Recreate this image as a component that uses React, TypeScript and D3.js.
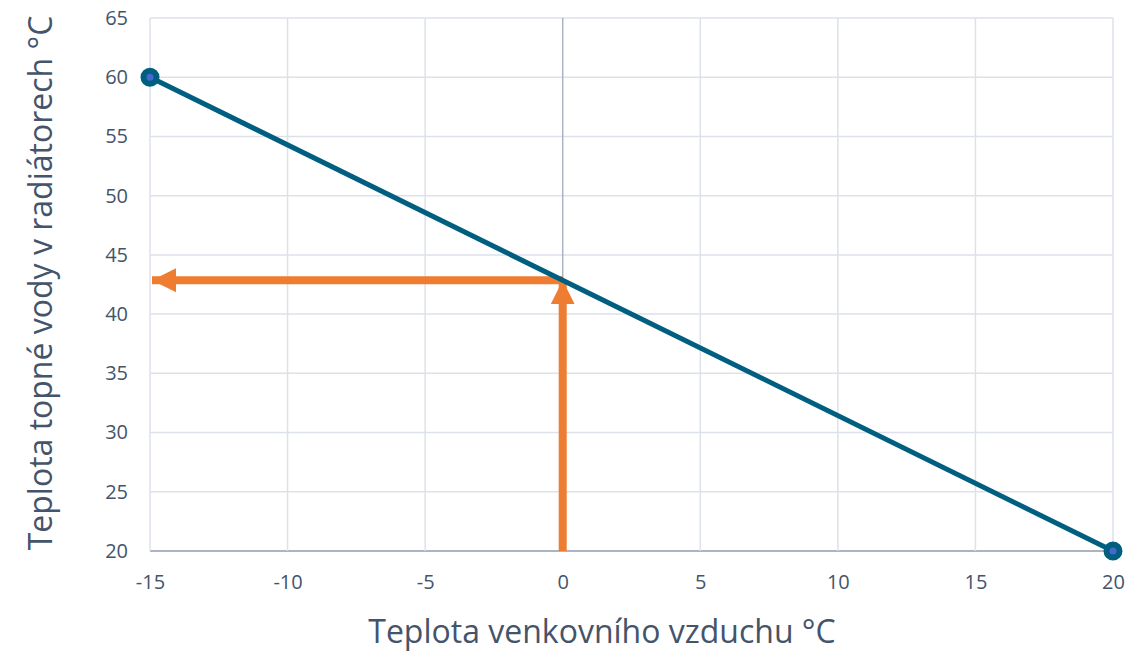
import React, { useEffect, useRef } from 'react';
import * as d3 from 'd3';

// heating curve: outdoor temp -> radiator water temp
const curveX = [-15, 20];
const curveY = [60, 20];
const readAtX = 0;
const readAtY = 42.86;
const xTicks = [-15, -10, -5, 0, 5, 10, 15, 20];
const yTicks = [20, 25, 30, 35, 40, 45, 50, 55, 60, 65];

const W = 1135;
const H = 653;
const margin = { left: 150, right: 22, top: 18, bottom: 102 };

export default function App() {
  const ref = useRef<SVGSVGElement>(null);

  useEffect(() => {
    const svg = d3.select(ref.current);
    svg.selectAll('*').remove();

    const x = d3.scaleLinear().domain([-15, 20]).range([margin.left, W - margin.right]);
    const y = d3.scaleLinear().domain([20, 65]).range([H - margin.bottom, margin.top]);
    const font = "'Segoe UI', 'Open Sans', sans-serif";
    const textColor = '#44546a';

    // grid
    const grid = svg.append('g');
    grid
      .selectAll('line.h')
      .data(yTicks)
      .enter()
      .append('line')
      .attr('x1', x(-15))
      .attr('x2', x(20))
      .attr('y1', d => y(d))
      .attr('y2', d => y(d))
      .attr('stroke', d => (d === 20 ? '#aab4c4' : '#dde2ea'))
      .attr('stroke-width', d => (d === 20 ? 2 : 1.5));
    grid
      .selectAll('line.v')
      .data(xTicks)
      .enter()
      .append('line')
      .attr('y1', y(20))
      .attr('y2', y(65))
      .attr('x1', d => x(d))
      .attr('x2', d => x(d))
      .attr('stroke', d => (d === 0 ? '#aab4c4' : '#dde2ea'))
      .attr('stroke-width', 1.5);

    // tick labels (plain hyphen minus like the original)
    const fmt = (d: d3.NumberValue) => String(d);
    const xAxis = d3.axisBottom(x).tickValues(xTicks).tickFormat(fmt).tickSize(0).tickPadding(24);
    const gx = svg.append('g').attr('transform', `translate(0, ${y(20)})`).call(xAxis);
    gx.select('.domain').remove();
    gx.selectAll('text').attr('font-size', 20).attr('font-family', font).attr('fill', textColor);

    const yAxis = d3.axisLeft(y).tickValues(yTicks).tickFormat(fmt).tickSize(0).tickPadding(22);
    const gy = svg.append('g').attr('transform', `translate(${x(-15)}, 0)`).call(yAxis);
    gy.select('.domain').remove();
    gy.selectAll('text').attr('font-size', 20).attr('font-family', font).attr('fill', textColor);

    // orange read-off arrows
    const orange = '#ee7d31';
    const defs = svg.append('defs');
    defs
      .append('marker')
      .attr('id', 'arrow')
      .attr('viewBox', '0 0 10 10')
      .attr('refX', 10)
      .attr('refY', 5)
      .attr('markerWidth', 3)
      .attr('markerHeight', 3.1)
      .attr('markerUnits', 'strokeWidth')
      .attr('orient', 'auto')
      .append('path')
      .attr('d', 'M0,0 L10,5 L0,10 Z')
      .attr('fill', orange);

    svg
      .append('line')
      .attr('x1', x(readAtX))
      .attr('x2', x(readAtX))
      .attr('y1', y(20))
      .attr('y2', y(readAtY))
      .attr('stroke', orange)
      .attr('stroke-width', 8)
      .attr('marker-end', 'url(#arrow)');
    svg
      .append('line')
      .attr('x1', x(readAtX))
      .attr('x2', x(-15) + 2)
      .attr('y1', y(readAtY))
      .attr('y2', y(readAtY))
      .attr('stroke', orange)
      .attr('stroke-width', 8)
      .attr('marker-end', 'url(#arrow)');

    // curve
    const pts = curveX.map((d, i) => [d, curveY[i]] as [number, number]);
    const line = d3
      .line<[number, number]>()
      .x(d => x(d[0]))
      .y(d => y(d[1]));
    svg
      .append('path')
      .datum(pts)
      .attr('d', line)
      .attr('fill', 'none')
      .attr('stroke', '#005f80')
      .attr('stroke-width', 5);
    svg
      .selectAll('circle.pt')
      .data(pts)
      .enter()
      .append('circle')
      .attr('cx', d => x(d[0]))
      .attr('cy', d => y(d[1]))
      .attr('r', 6.5)
      .attr('fill', '#4668cc')
      .attr('stroke', '#005f80')
      .attr('stroke-width', 6);

    // axis titles
    svg
      .append('text')
      .attr('x', 602)
      .attr('y', 643)
      .attr('text-anchor', 'middle')
      .attr('font-family', font)
      .attr('font-size', 32)
      .attr('fill', textColor)
      .text('Teplota venkovního vzduchu °C');
    svg
      .append('text')
      .attr('transform', `translate(52, 283) rotate(-90)`)
      .attr('text-anchor', 'middle')
      .attr('font-family', font)
      .attr('font-size', 32)
      .attr('fill', textColor)
      .text('Teplota topné vody v radiátorech °C');
  }, []);

  return (
    <svg
      ref={ref}
      width={W}
      height={H}
      style={{ position: 'absolute', left: 0, top: 0, background: '#fff' }}
    />
  );
}
